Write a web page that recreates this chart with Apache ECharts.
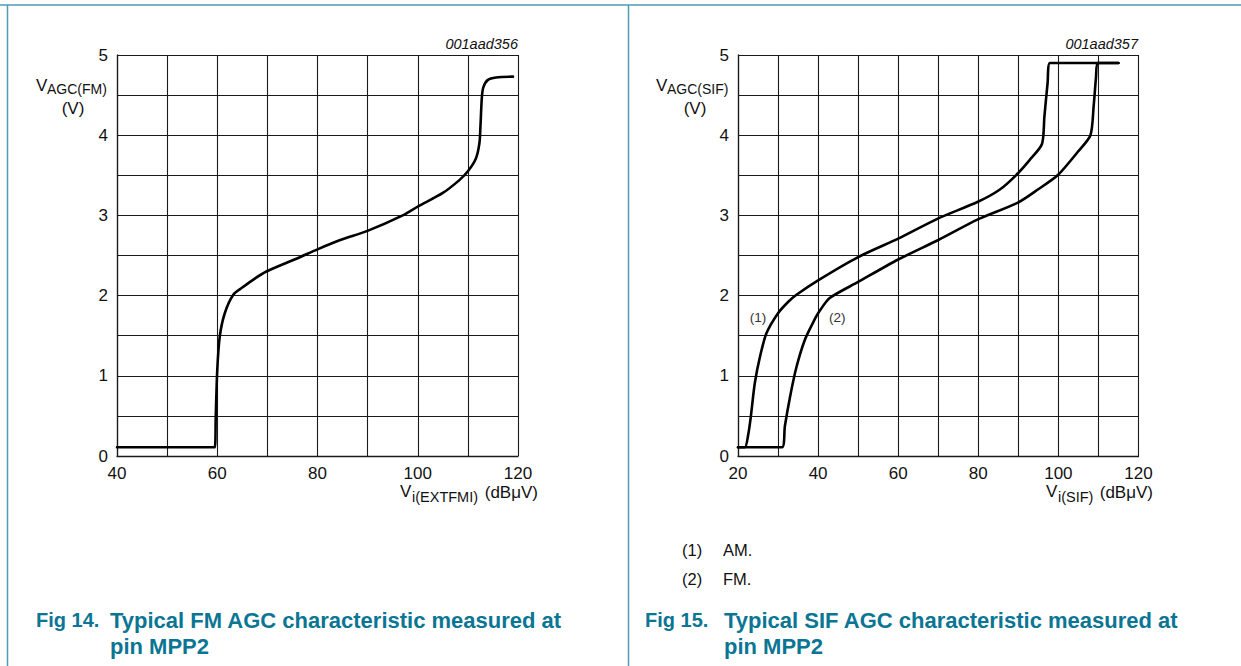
<!DOCTYPE html>
<html>
<head>
<meta charset="utf-8">
<script src="https://cdn.jsdelivr.net/npm/echarts@6/dist/echarts.min.js"></script>
<style>
html,body{margin:0;padding:0;background:#fff;}
#c{width:1241px;height:666px;}
</style>
</head>
<body>
<div id="c"></div>
<script>
// ---- data ----
const fmX = [40, 59.5, 59.7, 60.0, 60.5, 61.5, 63.2, 65, 67.2, 69.8, 75.8, 80.1, 84.4, 90.1, 97.0, 100.0, 105, 108.3, 110.0, 111.6, 112.3, 112.5, 112.8, 113.1, 114.0, 115.6, 119.0];
const fmY = [0.11, 0.11, 0.49, 1.07, 1.49, 1.78, 2.01, 2.1, 2.2, 2.30, 2.46, 2.58, 2.69, 2.81, 3.0, 3.11, 3.28, 3.44, 3.55, 3.71, 3.9, 4.1, 4.48, 4.6, 4.69, 4.72, 4.73];
const sifAmX = [20, 21.7, 22.6, 23.2, 24.2, 25.5, 27.1, 30.0, 32.5, 34.6, 40.0, 50.0, 60.0, 69.9, 79.9, 85.3, 89.4, 92.8, 95.9, 96.5, 97.3, 97.9, 109.8, 115.0];
const sifAmY = [0.11, 0.11, 0.28, 0.49, 0.91, 1.24, 1.53, 1.78, 1.92, 2.01, 2.19, 2.48, 2.71, 2.96, 3.17, 3.32, 3.50, 3.69, 3.89, 4.23, 4.65, 4.90, 4.90, 4.90];
const sifFmX = [20, 31.0, 31.7, 33.0, 34.6, 36.7, 38.8, 40.4, 42.9, 50, 60, 69.9, 79.9, 89.9, 94.8, 99.8, 104.8, 108.0, 108.8, 109.4, 109.8, 115.0];
const sifFmY = [0.11, 0.11, 0.37, 0.74, 1.11, 1.45, 1.67, 1.81, 1.97, 2.17, 2.45, 2.69, 2.95, 3.16, 3.32, 3.50, 3.79, 4.0, 4.36, 4.73, 4.90, 4.90];
const leftXTicks = [40, 60, 80, 100, 120];
const rightXTicks = [20, 40, 60, 80, 100, 120];
const yTicks = [0, 1, 2, 3, 4, 5];
const curveLabels = [{text: '(1)', x: 25.0, y: 1.73}, {text: '(2)', x: 44.8, y: 1.73}];

const zip = (xs, ys) => xs.map((x, i) => [x, ys[i]]);

const TEAL_LINE = '#4f9bb4';
const TEAL_TEXT = '#0b7594';
const FONT = '"Liberation Sans", Arial, sans-serif';

const chart = echarts.init(document.getElementById('c'), null, {renderer: 'svg'});

function yAxisCfg(gi) {
  return {
    type: 'value', gridIndex: gi, min: 0, max: 5, interval: 0.5,
    axisLine: {show: true, lineStyle: {color: '#1a1a1a', width: 1.3}},
    axisTick: {show: false},
    splitLine: {show: true, showMinLine: true, showMaxLine: true, lineStyle: {color: '#1a1a1a', width: 1.1}},
    axisLabel: {
      fontSize: 17, fontFamily: FONT, color: '#111', margin: 9,
      formatter: v => (yTicks.indexOf(v) >= 0 ? String(v) : '')
    }
  };
}
function xAxisCfg(gi, min, ticks) {
  return {
    type: 'value', gridIndex: gi, min: min, max: 120, interval: 10,
    axisLine: {show: true, lineStyle: {color: '#1a1a1a', width: 1.3}},
    axisTick: {show: false},
    splitLine: {show: true, showMinLine: true, showMaxLine: true, lineStyle: {color: '#1a1a1a', width: 1.1}},
    axisLabel: {
      fontSize: 17, fontFamily: FONT, color: '#111', margin: 9,
      formatter: v => (ticks.indexOf(v) >= 0 ? String(v) : '')
    }
  };
}
const lineStyle = {color: '#000', width: 2.6, join: 'round', cap: 'round'};

function txt(text, x, y, size, opts) {
  opts = opts || {};
  return {
    type: 'text', silent: true,
    style: {
      text: text, x: x, y: y, font: opts.font || (size + 'px ' + FONT),
      fill: opts.fill || '#111',
      align: opts.align || 'left', verticalAlign: 'middle'
    }
  };
}
function ln(x1, y1, x2, y2) {
  return {type: 'line', silent: true, shape: {x1, y1, x2, y2}, style: {stroke: TEAL_LINE, lineWidth: 1.5}};
}
function mp(lbl) {
  return {symbol: 'circle', symbolSize: 0, silent: true,
    label: {show: true, position: 'inside', fontSize: 13.5, fontFamily: FONT, color: '#333', formatter: p => p.name},
    data: [{name: lbl.text, coord: [lbl.x, lbl.y]}]};
}
const CAP = 'bold 22px ' + FONT;
const CAPFIG = 'bold 20px ' + FONT;

const option = {
  animation: false,
  backgroundColor: '#fff',
  grid: [
    {left: 117, top: 55, width: 401, height: 401},
    {left: 738, top: 55, width: 400.5, height: 401}
  ],
  xAxis: [xAxisCfg(0, 40, leftXTicks), xAxisCfg(1, 20, rightXTicks)],
  yAxis: [yAxisCfg(0), yAxisCfg(1)],
  series: [
    {type: 'line', xAxisIndex: 0, yAxisIndex: 0, data: zip(fmX, fmY), showSymbol: false, symbol: 'none',
      smooth: 0.3, lineStyle: lineStyle},
    {type: 'line', xAxisIndex: 1, yAxisIndex: 1, data: zip(sifAmX, sifAmY), showSymbol: false, symbol: 'none',
      smooth: 0.25, lineStyle: lineStyle, markPoint: mp(curveLabels[0])},
    {type: 'line', xAxisIndex: 1, yAxisIndex: 1, data: zip(sifFmX, sifFmY), showSymbol: false, symbol: 'none',
      smooth: 0.25, lineStyle: lineStyle, markPoint: mp(curveLabels[1])}
  ],
  graphic: [
    // frame
    ln(0, 5, 1241, 5),
    ln(7.5, 5, 7.5, 666),
    ln(628.5, 5, 628.5, 666),
    // codes
    txt('001aad356', 518, 44, 14.5, {align: 'right', font: 'italic 14.5px ' + FONT}),
    txt('001aad357', 1138, 44, 14.5, {align: 'right', font: 'italic 14.5px ' + FONT}),
    // left y name
    txt('V', 36, 85, 17),
    txt('AGC(FM)', 47, 89, 14),
    txt('(V)', 73, 108, 17, {align: 'center'}),
    // right y name
    txt('V', 656, 85, 17),
    txt('AGC(SIF)', 667, 89, 14),
    txt('(V)', 695, 108, 17, {align: 'center'}),
    // left x name
    txt('V', 400, 491, 17),
    txt('i(EXTFMI)', 412, 497, 14.5),
    txt('(dBμV)', 538, 492, 17, {align: 'right'}),
    // right x name
    txt('V', 1046, 491, 17),
    txt('i(SIF)', 1058, 497, 14.5),
    txt('(dBμV)', 1153, 492, 17, {align: 'right'}),
    // notes
    txt('(1)', 682, 550, 16.5),
    txt('AM.', 723, 550, 16.5),
    txt('(2)', 682, 579, 16.5),
    txt('FM.', 723, 579, 16.5),
    // captions
    txt('Fig 14.', 36, 620, 20, {font: CAPFIG, fill: TEAL_TEXT}),
    txt('Typical FM AGC characteristic measured at', 110, 620, 22, {font: CAP, fill: TEAL_TEXT}),
    txt('pin MPP2', 110, 646, 22, {font: CAP, fill: TEAL_TEXT}),
    txt('Fig 15.', 645, 620, 20, {font: CAPFIG, fill: TEAL_TEXT}),
    txt('Typical SIF AGC characteristic measured at', 724, 620, 22, {font: CAP, fill: TEAL_TEXT}),
    txt('pin MPP2', 724, 646, 22, {font: CAP, fill: TEAL_TEXT})
  ]
};
chart.setOption(option);
</script>
</body>
</html>
